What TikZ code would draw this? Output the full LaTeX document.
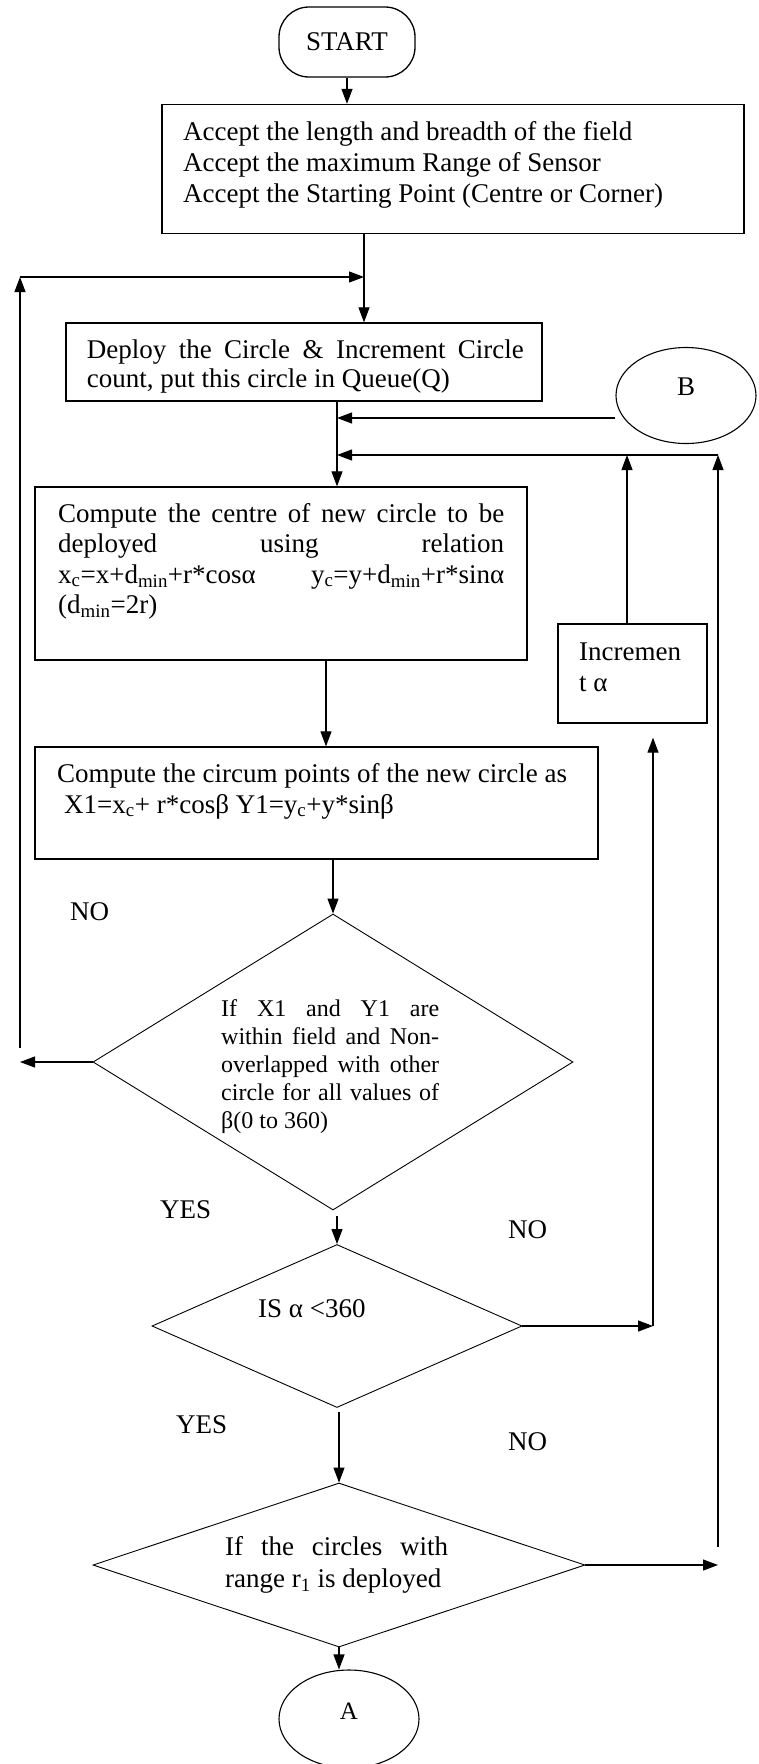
\documentclass[tikz,border=0pt]{standalone}
\usepackage{fontspec}
\setmainfont{Liberation Serif}
\usetikzlibrary{arrows.meta,shapes.geometric,calc}
\begin{document}
\begin{tikzpicture}[x=1pt,y=-1pt,
  box/.style={draw, line width=1.3pt, rectangle, inner sep=0pt},
  dia/.style={draw, line width=0.9pt, diamond, inner sep=0pt},
  term/.style={draw, line width=1.1pt, ellipse, inner sep=0pt, text height=10pt, text depth=10pt},
  txt/.style={inner sep=0pt, anchor=north west, align=left, font=\fontsize{27}{31}\selectfont},
  lbl/.style={inner sep=0pt, anchor=base west, font=\fontsize{27}{31}\selectfont},
  arr/.style={line width=1.1pt, -{Triangle[length=15pt,width=11pt]}}]
\fill[white] (0,0) rectangle (758,1764);
\useasboundingbox (0,0) rectangle (758,1764);

% boxes
\node[box, rounded corners=30pt, minimum width=136pt, minimum height=70pt,
      font=\fontsize{27}{31}\selectfont] (start) at (347,42) {START};
\node[box, minimum width=582pt, minimum height=129pt] (b1) at (453,169) {};
\node[txt] (b1t) at (183,119) {\strut Accept the length and breadth of the field\\Accept the maximum Range of Sensor\\Accept the Starting Point (Centre or Corner)};

\node[box, minimum width=476pt, minimum height=78pt] (b2) at (304,362) {};
\node[txt, font=\fontsize{27}{29}\selectfont] (b2t) at (86.7,338) {\strut\makebox[437pt][s]{Deploy the Circle \& Increment Circle}\\count, put this circle in Queue(Q)};

\node[term, minimum width=140pt, minimum height=96pt, font=\fontsize{27}{31}\selectfont] (B) at (686,395.5) {B};

\node[box, minimum width=492pt, minimum height=173pt] (b3) at (281,573.5) {};
\node[txt, font=\fontsize{27}{30.5}\selectfont] (b3t) at (58,500.6) {\strut\makebox[446pt][s]{Compute the centre of new circle to be}\\\makebox[446pt][s]{deployed using relation}\\\makebox[446pt][s]{x\textsubscript{c}=x+d\textsubscript{min}+r*cosα y\textsubscript{c}=y+d\textsubscript{min}+r*sinα}\\(d\textsubscript{min}=2r)};

\node[box, minimum width=149pt, minimum height=99pt] (inc) at (632.5,673.5) {};
\node[txt] (inct) at (579,639) {\strut Incremen\\t α};

\node[box, minimum width=563pt, minimum height=112pt] (b4) at (316.5,803) {};
\node[txt] (b4t) at (57,760.3) {\strut Compute the circum points of the new circle as\\\hspace*{7pt}X1=x\textsubscript{c}+ r*cosβ Y1=y\textsubscript{c}+y*sinβ};

% decisions
\node[dia, minimum width=480pt, minimum height=296pt] (d1) at (333,1062) {};
\node[txt, font=\fontsize{24}{28}\selectfont] (d1t) at (221,996.4) {\strut\makebox[218pt][s]{If X1 and Y1 are}\\\makebox[218pt][s]{within field and Non-}\\\makebox[218pt][s]{overlapped with other}\\\makebox[218pt][s]{circle for all values of}\\β(0 to 360)};

\node[dia, minimum width=370pt, minimum height=163pt] (d2) at (337,1326) {};
\node[lbl] (d2t) at (258,1317) {IS α <360};

\node[dia, minimum width=492pt, minimum height=164pt] (d3) at (339,1565) {};
\node[txt, font=\fontsize{27}{32}\selectfont] (d3t) at (225,1532.6) {\strut\makebox[223pt][s]{If the circles with}\\range r\textsubscript{1} is deployed};

\node[term, minimum width=140pt, minimum height=98pt, font=\fontsize{25}{30}\selectfont] (A) at (349,1719) {A};

% labels
\node[lbl] (no1) at (70,920) {NO};
\node[lbl] (yes1) at (160,1218) {YES};
\node[lbl] (no2) at (508,1238) {NO};
\node[lbl] (yes2) at (176,1433) {YES};
\node[lbl] (no3) at (508,1450) {NO};

% coordinates
\coordinate (j1) at (364,277);
\coordinate (lt) at (20,277);
\coordinate (lb) at (20,1048);
\coordinate (j2) at (337,418);
\coordinate (j3) at (337,455);
\coordinate (i1) at (627,455);
\coordinate (r1) at (718,455);
\coordinate (r1b) at (718,1547);
\coordinate (c1) at (653,1326);
\coordinate (ax) at (326,700);
\coordinate (d1b) at ($(d1.south)+(0,6)$);
\coordinate (d2b) at ($(d2.south)+(0,4)$);

% connectors
\draw[arr] (start.south) -- (start.south |- b1.north);
\draw[arr] (b1.south -| j1) -- (b2.north -| j1);
\draw[arr] (lb) -- (lt);
\draw[arr] (lt) -- (j1);
\draw[arr] (d1.west) -- (d1.west -| lt);
\draw[arr] (b2.south -| j2) -- (b3.north -| j2);
\draw[arr] (B.west |- j2) -- (j2);
\draw[arr] (r1) -- (j3);
\draw[arr] (inc.north -| i1) -- (i1);
\draw[arr] (r1b) -- (r1);
\draw[arr] (b3.south -| ax) -- (b4.north -| ax);
\draw[arr] (b4.south -| d1.north) -- (d1.north);
\draw[arr] (d1b -| d2.north) -- (d2.north);
\draw[arr] (d2.east) -- (d2.east -| c1);
\draw[arr, shorten >=14pt] (d2.east -| c1) -- (c1 |- inc.south);
\draw[arr] (d2b -| d3.north) -- (d3.north);
\draw[arr] (d3.east) -- (d3.east -| r1);
\draw[arr] (d3.south) -- (d3.south |- A.north);
\end{tikzpicture}
\end{document}
